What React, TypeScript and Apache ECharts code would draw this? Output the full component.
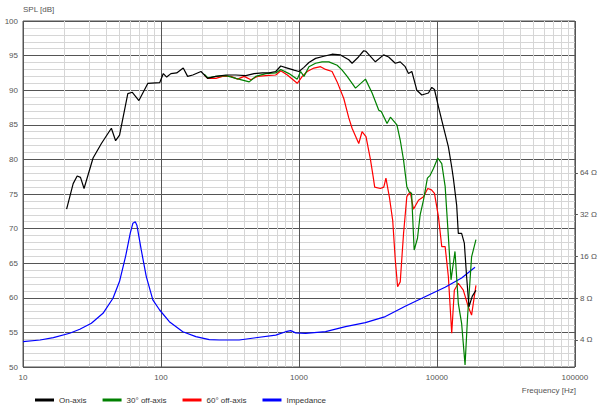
import { useEffect, useRef } from "react"
import * as echarts from "echarts"

// frequency response, values
const onAxisFreq = [20.7, 23.1, 24.7, 26.1, 27.7, 32.2, 37, 43.7, 46.9, 50.1, 57.5, 62, 69.2, 80.4, 98, 104, 110, 118, 130, 145, 156, 170, 195, 218, 250, 296, 349, 412, 473, 543, 607, 679, 738, 824, 921, 1000, 1087, 1181, 1320, 1515, 1738, 2000, 2297, 2427, 2700, 2946, 3060, 3580, 4110, 4467, 4990, 5420, 5890, 6220, 6580, 7150, 7770, 8680, 9180, 9600, 10260, 11140, 12110, 12800, 13150, 13900, 14290, 15100, 15800, 16420, 17070, 18020, 19180]
const onAxisSpl = [72.8, 76.5, 77.6, 77.4, 75.8, 80.2, 82.3, 84.5, 82.7, 83.5, 89.5, 89.7, 88.5, 91, 91.1, 92.4, 91.9, 92.4, 92.5, 93.2, 92, 92.2, 92.7, 91.7, 92, 92.2, 92.2, 92.1, 92.4, 92.5, 92.5, 92.7, 93.5, 93.2, 92.9, 92.7, 93.3, 94, 94.6, 94.9, 95.2, 95.1, 94.4, 93.9, 94.8, 95.7, 95.6, 94.1, 95.1, 94.8, 93.9, 94.1, 93.4, 92.4, 92.7, 90, 89.3, 89.6, 90.4, 90.1, 87.6, 84.7, 81.8, 78.9, 77.3, 73.4, 69.3, 69.3, 67.9, 63, 58.7, 60.2, 61.1]

const off30Freq = [206, 218, 250, 296, 349, 436, 486, 575, 679, 738, 847, 972, 1028, 1087, 1181, 1320, 1472, 1648, 1892, 2056, 2235, 2570, 3035, 3390, 3790, 3960, 4350, 4600, 5130, 5420, 5730, 6050, 6300, 6550, 6840, 7230, 7560, 7990, 8530, 8930, 9440, 10140, 10840, 11470, 12110, 12650, 13520, 14290, 15100, 15990, 16680, 17830, 19180]
const off30Spl = [92.3, 91.8, 92, 92.1, 91.7, 91.2, 92, 92.4, 92.5, 93, 92.4, 91.6, 92.7, 92, 93.4, 93.9, 94.1, 94.1, 93.6, 92.9, 92, 90.3, 91.6, 89.6, 87.1, 86.9, 85.2, 86.1, 85, 82.8, 79.9, 76.1, 75.3, 75.1, 66.9, 68.6, 72, 74.1, 77.3, 77.7, 78.7, 80.2, 79.4, 76.1, 68.8, 62.6, 66.7, 59.2, 56.3, 50.3, 57.3, 65.9, 68.4]

const off60Freq = [206, 218, 250, 279, 321, 359, 401, 448, 500, 575, 679, 738, 824, 972, 1057, 1148, 1283, 1434, 1560, 1738, 1892, 2113, 2297, 2427, 2713, 2866, 3062, 3296, 3450, 3540, 3890, 4120, 4270, 4520, 4780, 4990, 5190, 5420, 5730, 6050, 6400, 6760, 7350, 7990, 8580, 9130, 9600, 10260, 10840, 11470, 12110, 12800, 13370, 14290, 15530, 16870, 17830, 19180]
const off60Spl = [92.2, 91.7, 91.7, 92, 92, 91.6, 92, 91.5, 92, 92.1, 92.2, 92.8, 92.2, 91, 92, 92.7, 93.2, 93.4, 93, 92.7, 91.2, 88.8, 86, 84.5, 82.3, 84, 83.3, 80, 77.5, 76, 75.8, 76, 77.3, 74.6, 71.2, 65.5, 61.6, 62.3, 69.3, 74.6, 75.3, 72.8, 74.1, 74.6, 75.8, 75.6, 75.1, 71.7, 67.4, 67.4, 63, 54.9, 61.1, 62.1, 61.1, 58.7, 57.5, 61.8]

const impFreq = [10, 13.3, 16.6, 21.8, 25.8, 31.3, 38, 44.9, 50.1, 55.4, 59.9, 62.6, 65.1, 66.9, 71.9, 78.2, 87.3, 97.8, 115, 144, 179, 224, 264, 369, 486, 679, 802, 871, 946, 1117, 1560, 2175, 3030, 4230, 5890, 8200, 11460, 15100, 18880]
const impOhm = [3.89, 4.0, 4.16, 4.47, 4.78, 5.28, 6.23, 8, 10.6, 16, 23.6, 27.8, 28.5, 26.9, 17.9, 11.5, 7.78, 6.58, 5.42, 4.59, 4.23, 4.02, 4.0, 4.0, 4.15, 4.34, 4.59, 4.67, 4.5, 4.47, 4.59, 5.0, 5.33, 5.9, 7.0, 8.2, 9.6, 11.2, 13.4]

// axes
const splRange = [50, 100]
const freqRange = [10, 100000]
const ohmTicks = [4, 8, 16, 32, 64]
const ohmAxisLog2 = [1.353, 9.64] // right axis extent, in log2(ohm)
const seriesNames = ["On-axis", "30° off-axis", "60° off-axis", "Impedance"]
const seriesColors = ["#000000", "#008000", "#ff0000", "#0000ff"]

const zip = (f: number[], v: number[]) => f.map((x, i) => [x, v[i]])

export default function App() {
  const chartRef = useRef<HTMLDivElement>(null)

  useEffect(() => {
    if (!chartRef.current) return
    const chart = echarts.init(chartRef.current, undefined, { renderer: "svg" })

    // minor frequency gridlines at 2..9 x each decade
    const minorFreqs: number[] = []
    for (let d = freqRange[0]; d < freqRange[1]; d *= 10) {
      for (let k = 2; k <= 9; k++) minorFreqs.push(k * d)
    }

    const labelStyle = { fontSize: 8, color: "#555" }

    const option = {
      animation: false,
      textStyle: { fontFamily: "Liberation Sans, Arial, sans-serif" },
      title: {
        text: "Frequency [Hz]",
        right: 24,
        top: 386,
        padding: 0,
        textStyle: { fontSize: 8, fontWeight: "normal", color: "#555" },
      },
      grid: {
        left: 23,
        right: 25,
        top: 21,
        bottom: 43,
        show: true,
        borderColor: "#555",
        borderWidth: 1,
      },
      legend: {
        data: seriesNames,
        left: 35,
        top: 396,
        padding: 0,
        icon: "rect",
        itemWidth: 19,
        itemHeight: 3,
        itemGap: 16,
        textStyle: { fontSize: 8, color: "#333" },
      },
      xAxis: {
        type: "log",
        logBase: 10,
        min: freqRange[0],
        max: freqRange[1],
        axisLine: { show: false },
        axisTick: { show: false },
        axisLabel: { ...labelStyle, margin: 6, formatter: (v: number) => String(Math.round(v)) },
        splitLine: { show: true, lineStyle: { color: "#555", width: 1 } },
      },
      yAxis: [
        {
          type: "value",
          min: splRange[0],
          max: splRange[1],
          interval: 5,
          name: "SPL [dB]",
          nameLocation: "end",
          nameGap: 8,
          nameTextStyle: { fontSize: 8, color: "#555", align: "left" },
          axisLine: { show: false },
          axisTick: { show: false },
          axisLabel: { ...labelStyle, margin: 5 },
          splitLine: { show: true, lineStyle: { color: "#555", width: 1 } },
          minorTick: { show: false, splitNumber: 5 },
          minorSplitLine: { show: true, lineStyle: { color: "#d6d6d6", width: 1 } },
        },
        {
          type: "value",
          position: "right",
          min: ohmAxisLog2[0],
          max: ohmAxisLog2[1],
          axisLine: { show: false },
          splitLine: { show: false },
          axisTick: {
            show: true,
            length: 3,
            customValues: ohmTicks.map((o) => Math.log2(o)),
            lineStyle: { color: "#555" },
          },
          axisLabel: {
            ...labelStyle,
            margin: 5,
            customValues: ohmTicks.map((o) => Math.log2(o)),
            formatter: (v: number) => `${Math.round(Math.pow(2, v))} Ω`,
          },
        },
      ],
      series: [
        {
          name: seriesNames[0],
          type: "line",
          data: zip(onAxisFreq, onAxisSpl),
          symbol: "none",
          lineStyle: { color: seriesColors[0], width: 1.2 },
          itemStyle: { color: seriesColors[0] },
          z: 5,
          markLine: {
            silent: true,
            symbol: ["none", "none"],
            label: { show: false },
            z: 1,
            lineStyle: { color: "#d6d6d6", width: 1, type: "solid" },
            data: minorFreqs.map((f) => ({ xAxis: f })),
          },
        },
        {
          name: seriesNames[1],
          type: "line",
          data: zip(off30Freq, off30Spl),
          symbol: "none",
          lineStyle: { color: seriesColors[1], width: 1.2 },
          itemStyle: { color: seriesColors[1] },
          z: 4,
        },
        {
          name: seriesNames[2],
          type: "line",
          data: zip(off60Freq, off60Spl),
          symbol: "none",
          lineStyle: { color: seriesColors[2], width: 1.2 },
          itemStyle: { color: seriesColors[2] },
          z: 3,
        },
        {
          name: seriesNames[3],
          type: "line",
          yAxisIndex: 1,
          data: zip(impFreq, impOhm.map((o) => Math.log2(o))),
          symbol: "none",
          lineStyle: { color: seriesColors[3], width: 1.2 },
          itemStyle: { color: seriesColors[3] },
          z: 3,
        },
      ],
    }

    chart.setOption(option)

    return () => {
      chart.dispose()
    }
  }, [])

  return (
    <div
      ref={chartRef}
      style={{ position: "fixed", left: 0, top: 0, width: 600, height: 410, background: "#fff" }}
    />
  )
}
